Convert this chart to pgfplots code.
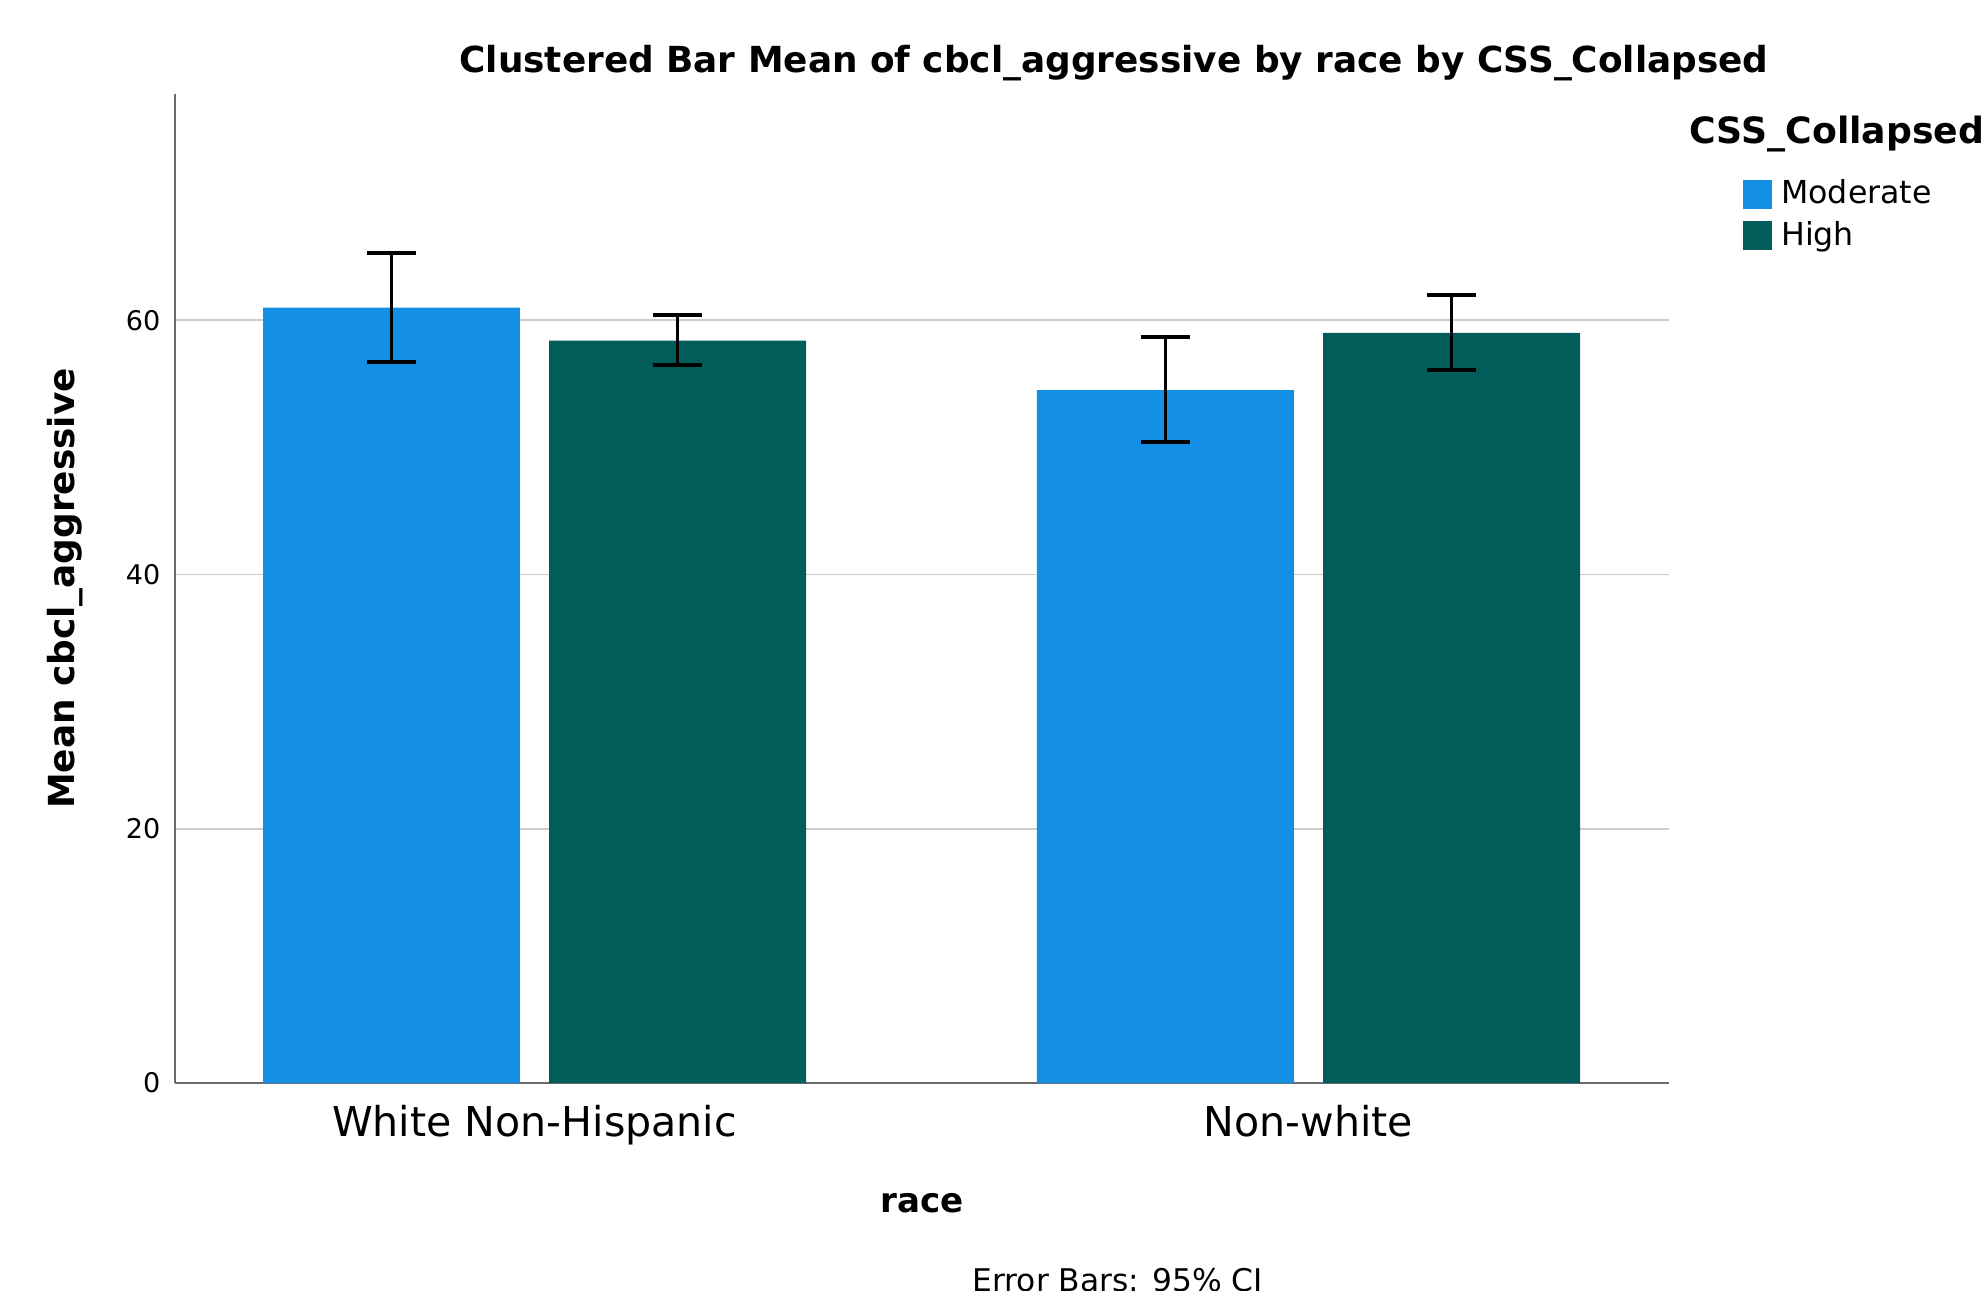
\documentclass[border=0pt]{standalone}
\usepackage{fontspec}
\setmainfont{DejaVu Sans}
\usepackage{pgfplots}
\pgfplotsset{compat=1.18}
\definecolor{modblue}{HTML}{138FE4}
\definecolor{highteal}{HTML}{015C5A}
\begin{document}
\begin{tikzpicture}
\useasboundingbox (0,0) rectangle (19.84,12.90);
\begin{axis}[
  at={(1.75cm,2.07cm)}, anchor=south west,
  scale only axis, width=14.94cm, height=9.89cm,
  xmin=-0.4645, xmax=1.4658, ymin=0, ymax=77.8,
  axis x line*=bottom, axis y line*=left,
  axis line style={draw=black!58, line width=0.75pt},
  xtick={0,1}, xticklabels={White Non-Hispanic, Non-white},
  ytick={0,20,40,60},
  major tick length=0pt,
  ymajorgrids, grid style={draw=black!20, line width=0.55pt},
  xticklabel style={font=\fontsize{11.7}{14}\selectfont, anchor=base, yshift=-0.53cm},
  yticklabel style={font=\fontsize{7.7}{9}\selectfont, anchor=east, inner sep=0pt, xshift=-0.14cm},
  /pgf/number format/assume math mode=true,
  xlabel={race}, ylabel={Mean cbcl\_aggressive},
  xlabel style={font=\bfseries\fontsize{9.7}{12}\selectfont, at={(axis description cs:0.5,-0.1213)}, anchor=center},
  ylabel style={font=\bfseries\fontsize{10.2}{12}\selectfont, at={(axis description cs:-0.0736,0.5)}, anchor=center},
  ybar,
  legend style={at={(axis description cs:1.0422,0.921)}, anchor=north west, draw=none, fill=none,
    font=\fontsize{9}{11}\selectfont, nodes={inner sep=0pt}, row sep=0.12cm, column sep=0.09cm},
  legend cell align=left,
  legend image code/.code={\fill[#1] (0cm,-0.145cm) rectangle (0.29cm,0.145cm);},
  clip=false,
]
\addplot[ybar, bar width=0.332, bar shift=-0.1848, fill=modblue, draw=none,
  error bars/.cd, y dir=both, y explicit,
  error bar style={line width=1.05pt, draw=black},
  error mark options={rotate=90, line width=1.05pt, mark size=0.245cm, draw=black}]
  coordinates {(0,61.0) += (0,4.3) -= (0,4.3) (1,54.5) += (0,4.2) -= (0,4.1)};
\addplot[ybar, bar width=0.332, bar shift=0.1848, fill=highteal, draw=none,
  error bars/.cd, y dir=both, y explicit,
  error bar style={line width=1.05pt, draw=black},
  error mark options={rotate=90, line width=1.05pt, mark size=0.245cm, draw=black}]
  coordinates {(0,58.4) += (0,2.0) -= (0,1.9) (1,59.0) += (0,3.0) -= (0,2.9)};
\legend{Moderate, High}
\end{axis}
\node[font=\bfseries\fontsize{10.2}{12}\selectfont] at (11.14,12.27) {Clustered Bar Mean of cbcl\_aggressive by race by CSS\_Collapsed};
\node[font=\bfseries\fontsize{10.3}{12}\selectfont, anchor=west, inner sep=0pt] at (16.89,11.56) {CSS\_Collapsed};
\node[font=\fontsize{8.9}{10}\selectfont, anchor=north west, inner sep=0pt] at (9.72,0.22) {Error Bars: 95\% CI};
\end{tikzpicture}
\end{document}
